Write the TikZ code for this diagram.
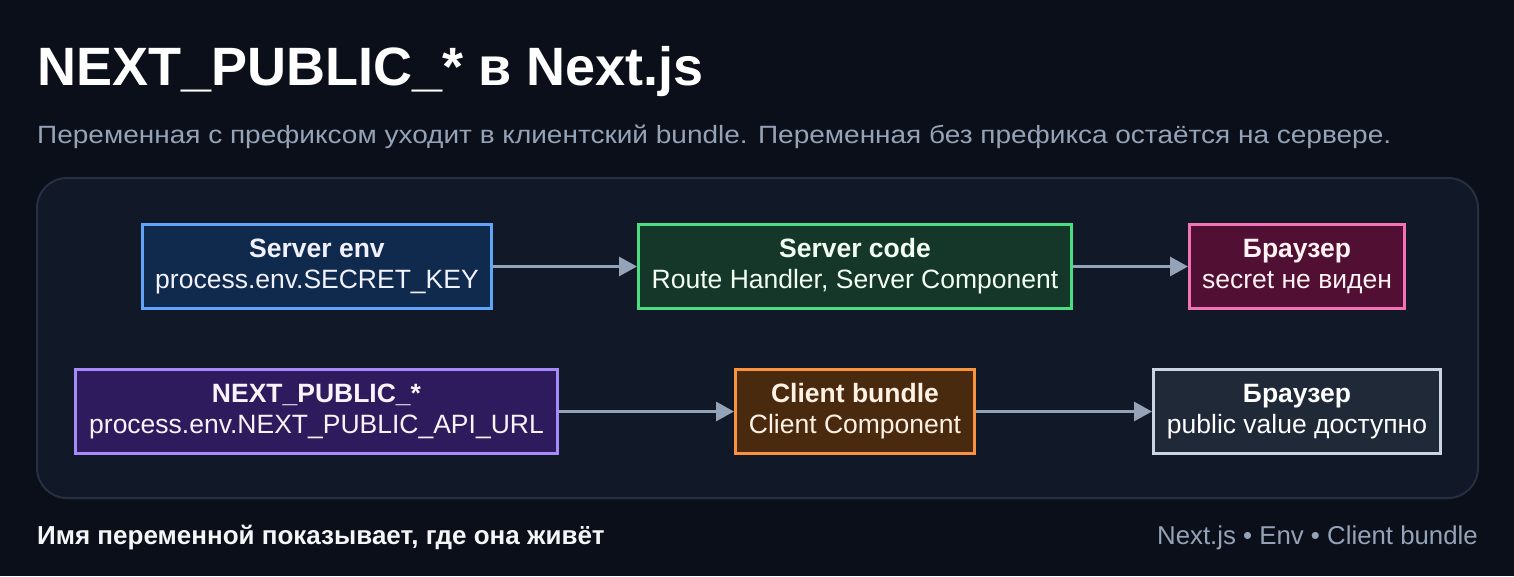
\documentclass[tikz,border=0pt]{standalone}
\usepackage{fontspec}
\setmainfont{Liberation Sans}
\usepackage{tikz}
\usetikzlibrary{arrows.meta,positioning}
\usepackage{xcolor}

\definecolor{bgdark}{HTML}{0B0F19}
\definecolor{panelbg}{HTML}{111827}
\definecolor{panelrim}{HTML}{263041}
\definecolor{muted}{HTML}{94A3B8}
\definecolor{envfill}{HTML}{0F2A4D}
\definecolor{envrim}{HTML}{60A5FA}
\definecolor{codefill}{HTML}{14372A}
\definecolor{coderim}{HTML}{4ADE80}
\definecolor{secfill}{HTML}{500F33}
\definecolor{secrim}{HTML}{F472B6}
\definecolor{pubfill}{HTML}{2E1B5E}
\definecolor{pubrim}{HTML}{A78BFA}
\definecolor{bndfill}{HTML}{4A2A0F}
\definecolor{bndrim}{HTML}{FB923C}
\definecolor{brwfill}{HTML}{1F2937}
\definecolor{brwrim}{HTML}{CBD5E1}

\begin{document}
\begin{tikzpicture}[
      x=1pt,y=1pt,
      box/.style={draw,line width=3pt,minimum height=84pt,inner sep=0pt,
                  align=center,font=\fontsize{26.5}{31}\selectfont},
      flow/.style={-{Triangle[length=18pt,width=19pt]},line width=3pt,
                   draw=muted},
    ]

    % background and panel
    \fill[bgdark] (0,0) rectangle (1514,-576);
    \draw[fill=panelbg,draw=panelrim,line width=2pt,rounded corners=30pt]
      (37,-178) rectangle (1478,-498);

    % heading
    \node[anchor=base west,inner sep=0pt,text=white,
          font=\fontsize{54}{60}\selectfont\bfseries] (title)
      at (37,-85) {NEXT\_PUBLIC\_* в Next.js};
    \node[anchor=base west,inner sep=0pt,text=muted,
          font=\fontsize{25}{28}\selectfont\addfontfeature{FakeStretch=1.12}]
      (subtitle) at (37,-143)
      {Переменная с префиксом уходит в клиентский bundle.
        Переменная без префикса остаётся на сервере.};

    % server row
    \node[box,fill=envfill,draw=envrim,text=blue!5,minimum width=349pt]
      (senv) at (317,-266.5)
      {\textbf{Server env}\\process.env.SECRET\_KEY};
    \node[box,fill=codefill,draw=coderim,text=green!5,minimum width=433pt,
          right=144pt of senv] (scode)
      {\textbf{Server code}\\Route Handler, Server Component};
    \node[box,fill=secfill,draw=secrim,text=pink!20,minimum width=215pt,
          right=115pt of scode] (sbrw)
      {\textbf{Браузер}\\secret не виден};

    % public row
    \node[box,fill=pubfill,draw=pubrim,text=violet!5,minimum width=482pt]
      (penv) at (316.5,-411.5)
      {\textbf{NEXT\_PUBLIC\_*}\\process.env.NEXT\_PUBLIC\_API\_URL};
    \node[box,fill=bndfill,draw=bndrim,text=orange!10,minimum width=239pt,
          right=175pt of penv] (pbnd)
      {\textbf{Client bundle}\\Client Component};
    \node[box,fill=brwfill,draw=brwrim,text=white,minimum width=287pt,
          right=176pt of pbnd] (pbrw)
      {\textbf{Браузер}\\public value доступно};

    % arrows
    \draw[flow] (senv)  -- (scode);
    \draw[flow] (scode) -- (sbrw);
    \draw[flow] (penv)  -- (pbnd);
    \draw[flow] (pbnd)  -- (pbrw);

    % footer
    \node[anchor=base west,inner sep=0pt,text=white!90!muted,
          font=\fontsize{26}{28}\selectfont\bfseries] (foot)
      at (37,-544) {Имя переменной показывает, где она живёт};
    \node[anchor=base east,inner sep=0pt,text=muted,
          font=\fontsize{25.8}{28}\selectfont] (tags)
      at (1478,-544) {Next.js • Env • Client bundle};

  \end{tikzpicture}
\end{document}
